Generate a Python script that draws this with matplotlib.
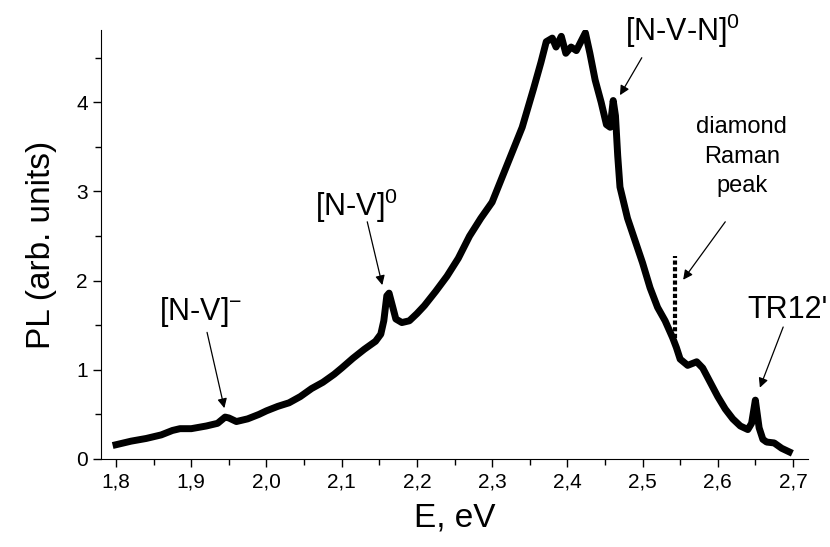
import matplotlib
matplotlib.use("Agg")
import matplotlib.pyplot as plt
from matplotlib.ticker import MultipleLocator, FuncFormatter

plt.rcParams['font.family'] = ['Liberation Sans', 'DejaVu Sans']
plt.rcParams['mathtext.fontset'] = 'custom'
plt.rcParams['mathtext.rm'] = 'Liberation Sans'

# PL spectrum
energy = [1.800, 1.820, 1.840, 1.860, 1.875, 1.885, 1.900, 1.920, 1.935, 1.945,
          1.950, 1.960, 1.975, 1.990, 2.000, 2.015, 2.030, 2.045, 2.060, 2.075,
          2.090, 2.100, 2.115, 2.130, 2.145, 2.152, 2.156, 2.160, 2.163, 2.168,
          2.172, 2.180, 2.190, 2.200, 2.210, 2.225, 2.240, 2.255, 2.270, 2.285,
          2.300, 2.320, 2.340, 2.355, 2.365, 2.372, 2.380, 2.385, 2.392, 2.398,
          2.405, 2.412, 2.418, 2.424, 2.430, 2.437, 2.445, 2.452, 2.457, 2.461,
          2.464, 2.467, 2.470, 2.480, 2.490, 2.500, 2.510, 2.520, 2.530, 2.540,
          2.545, 2.550, 2.560, 2.572, 2.580, 2.590, 2.600, 2.610, 2.620, 2.630,
          2.640, 2.645, 2.650, 2.655, 2.660, 2.665, 2.675, 2.685, 2.695]
pl = [0.16, 0.20, 0.23, 0.27, 0.32, 0.34, 0.34, 0.37, 0.40, 0.47,
      0.46, 0.42, 0.45, 0.50, 0.54, 0.59, 0.63, 0.70, 0.79, 0.86,
      0.95, 1.02, 1.13, 1.23, 1.32, 1.40, 1.55, 1.83, 1.86, 1.70,
      1.57, 1.53, 1.55, 1.63, 1.72, 1.88, 2.05, 2.25, 2.50, 2.70,
      2.88, 3.30, 3.72, 4.15, 4.45, 4.68, 4.72, 4.62, 4.74, 4.55,
      4.62, 4.58, 4.68, 4.78, 4.55, 4.25, 4.00, 3.75, 3.72, 4.02,
      3.85, 3.40, 3.05, 2.70, 2.45, 2.20, 1.92, 1.70, 1.55, 1.36,
      1.25, 1.12, 1.05, 1.09, 1.02, 0.86, 0.70, 0.56, 0.45, 0.37,
      0.33, 0.40, 0.66, 0.35, 0.22, 0.19, 0.18, 0.12, 0.08]

# diamond Raman line (dotted spike)
raman_e = [2.543, 2.543]
raman_pl = [1.36, 2.28]

# annotations: label, text position, arrow tail, arrow head
labels = [r'[N-V]$^\mathregular{-}$', r'[N-V]$^\mathregular{0}$',
          r'[N-V-N]$^\mathregular{0}$', "TR12'"]
label_xy = [(1.912, 1.65), (2.120, 2.84), (2.553, 4.80), (2.640, 1.67)]
label_ha = ['center', 'center', 'center', 'left']
arrow_tail = [(1.921, 1.42), (2.134, 2.66), (2.499, 4.50), (2.687, 1.48)]
arrow_head = [(1.944, 0.57), (2.154, 1.95), (2.470, 4.08), (2.656, 0.80)]

raman_text = "diamond\nRaman\npeak"
raman_text_xy = (2.632, 3.39)
raman_tail = (2.610, 2.66)
raman_head = (2.554, 2.01)

fig = plt.figure(figsize=(8.3, 5.47), dpi=100)
ax = fig.add_axes([0.1217, 0.1609, 0.8518, 0.7841])

ax.plot(energy, pl, color='black', lw=5, solid_joinstyle='round')
ax.plot(raman_e, raman_pl, color='black', lw=3, ls=(0, (1.0, 0.6)))

for lab, xy, ha in zip(labels, label_xy, label_ha):
    ax.text(xy[0], xy[1], lab, fontsize=22, ha=ha, va='center')
for t, h in zip(arrow_tail, arrow_head):
    ax.annotate('', xy=h, xytext=t,
                arrowprops=dict(arrowstyle='-|>', color='black', lw=0.9,
                                mutation_scale=14, shrinkA=0, shrinkB=0))

ax.text(raman_text_xy[0], raman_text_xy[1], raman_text, fontsize=17,
        ha='center', va='center', linespacing=1.45)
ax.annotate('', xy=raman_head, xytext=raman_tail,
            arrowprops=dict(arrowstyle='-|>', color='black', lw=0.9,
                            mutation_scale=14, shrinkA=0, shrinkB=0))

ax.set_xlim(1.78, 2.72)
ax.set_ylim(0, 4.81)
ax.xaxis.set_major_locator(MultipleLocator(0.1))
ax.xaxis.set_minor_locator(MultipleLocator(0.05))
ax.yaxis.set_major_locator(MultipleLocator(1))
ax.yaxis.set_minor_locator(MultipleLocator(0.5))
ax.xaxis.set_major_formatter(FuncFormatter(lambda v, p: f'{v:.1f}'.replace('.', ',')))
ax.yaxis.set_major_formatter(FuncFormatter(lambda v, p: f'{v:.0f}'))
ax.tick_params(which='both', direction='out', width=1, labelsize=15)
ax.tick_params(which='major', length=6)
ax.tick_params(which='minor', length=4)

ax.spines['top'].set_visible(False)
ax.spines['right'].set_visible(False)

ax.set_xlabel('E, eV', fontsize=24, labelpad=8)
ax.set_ylabel('PL (arb. units)', fontsize=24, labelpad=14)

fig.savefig('out.png', dpi=100)
